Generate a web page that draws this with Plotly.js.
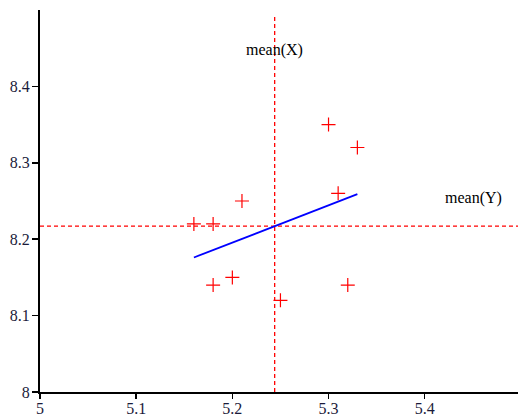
<!DOCTYPE html>
<html>
<head>
<meta charset="utf-8">
<script src="https://cdn.plot.ly/plotly-3.0.1.min.js"></script>
<style>html,body{margin:0;padding:0;background:#fff;}#chart{width:518px;height:418px;}</style>
</head>
<body>
<div id="chart"></div>
<script>
// Data
var X = [5.16, 5.18, 5.21, 5.18, 5.20, 5.25, 5.32, 5.30, 5.33, 5.31];
var Y = [8.22, 8.22, 8.25, 8.14, 8.15, 8.12, 8.14, 8.35, 8.32, 8.26];
var xTicks = [5, 5.1, 5.2, 5.3, 5.4];
var yTicks = [8, 8.1, 8.2, 8.3, 8.4];
var meanXLabel = "mean(X)";
var meanYLabel = "mean(Y)";

var n = X.length;
var mx = X.reduce(function(a,b){return a+b;},0)/n;
var my = Y.reduce(function(a,b){return a+b;},0)/n;
var sxy = 0, sxx = 0;
for (var i=0;i<n;i++){ sxy += (X[i]-mx)*(Y[i]-my); sxx += (X[i]-mx)*(X[i]-mx); }
var slope = sxy/sxx, icpt = my - slope*mx;
var xmin = Math.min.apply(null, X), xmax = Math.max.apply(null, X);
var fitX = [xmin, xmax];
var fitY = fitX.map(function(x){return icpt + slope*x;});

var xr = [5, 5.497], yr = [8, 8.5];
var serif = "Liberation Serif";

var traces = [
  {x:[mx,mx], y:[8, 8.493], mode:'lines', line:{color:'#ff0000', width:1.3, dash:'4px,3px'}, hoverinfo:'none'},
  {x:[xr[0], xr[1]], y:[my,my], mode:'lines', line:{color:'#ff0000', width:1.3, dash:'4px,3px'}, hoverinfo:'none'},
  {x:fitX, y:fitY, mode:'lines', line:{color:'#0000ff', width:1.8}},
  {x:X, y:Y, mode:'markers', marker:{symbol:'cross-thin', size:10, color:'#ff0000', line:{color:'#ff0000', width:1.2}}}
];

var layout = {
  width:518, height:418,
  margin:{l:40, r:0, t:10, b:26},
  showlegend:false,
  paper_bgcolor:'#fff', plot_bgcolor:'#fff',
  font:{family:serif, size:16, color:'#111'},
  xaxis:{range:xr, tickvals:xTicks, ticktext:xTicks.map(String), showgrid:false, zeroline:false,
         showline:true, linecolor:'#000', linewidth:2, ticks:'outside', ticklen:5, tickwidth:1.5, tickcolor:'#000',
         ticklabelstandoff:-4,
         tickfont:{family:serif, size:16, color:'#1a1a3a'}},
  yaxis:{range:yr, tickvals:yTicks, ticktext:yTicks.map(String), showgrid:false, zeroline:false,
         showline:true, linecolor:'#000', linewidth:2, ticks:'outside', ticklen:6, tickwidth:1.5, tickcolor:'#000',
         ticklabelstandoff:-1,
         tickfont:{family:serif, size:16, color:'#1a1a3a'}},
  annotations:[
    {x:mx, y:8.447, xref:'x', yref:'y', text:meanXLabel, showarrow:false, xanchor:'center', yanchor:'middle',
     font:{family:serif, size:16, color:'#000'}},
    {x:5.451, y:8.254, xref:'x', yref:'y', text:meanYLabel, showarrow:false, xanchor:'center', yanchor:'middle',
     font:{family:serif, size:16, color:'#000'}}
  ]
};
Plotly.newPlot('chart', traces, layout, {staticPlot:true, displayModeBar:false});
</script>
</body>
</html>
